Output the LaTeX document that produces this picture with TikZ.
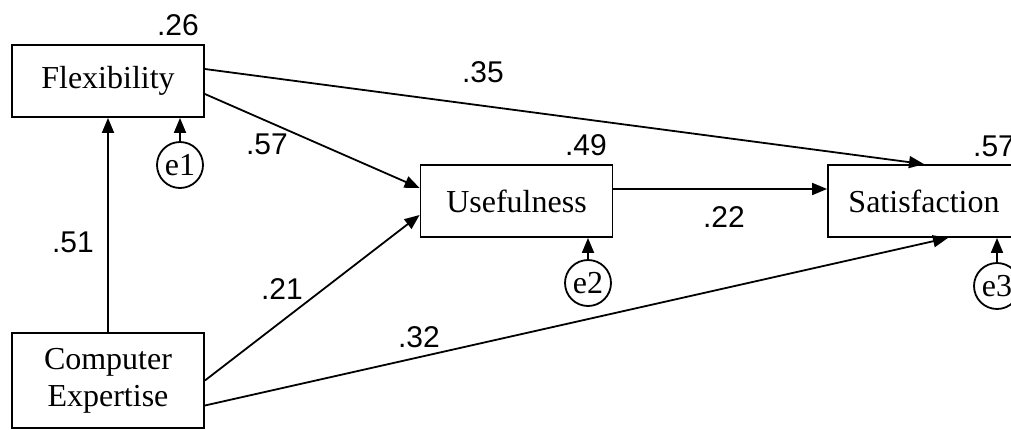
\documentclass[tikz,border=0pt]{standalone}
\usepackage{fontspec}
\setmainfont{Liberation Serif}
\newfontfamily\numfont{Liberation Sans}
\usetikzlibrary{arrows.meta,positioning}

\begin{document}
\begin{tikzpicture}[x=0.5pt,y=-0.5pt,>={Triangle[length=7.5pt,width=6pt]},line width=0.9pt,
  var/.style={draw, rectangle, minimum width=96pt, minimum height=36pt, inner sep=0pt, align=center, font=\fontsize{16}{18.5}\selectfont},
  err/.style={draw, circle, minimum size=23pt, inner sep=0pt, font=\fontsize{16}{16}\selectfont},
  coef/.style={inner sep=0pt, font=\numfont\fontsize{15}{15}\selectfont}]
\clip (0,0) rectangle (1011,429);
\node[var] (flex) at (108,81) {Flexibility};
\node[var] (use) at (516.5,201) {Usefulness};
\node[var] (sat) at (924,201) {Satisfaction};
\node[var, minimum height=47.5pt] (ce) at (108,380.5) {Computer\\Expertise};
\node[err] (e1) at (180,165) {e1};
\node[err] (e2) at (588,283) {e2};
\node[err] (e3) at (997,286) {e3};
% squared multiple correlations
\node[coef] (r1) at (178,25) {.26};
\node[coef] (r2) at (586,145) {.49};
\node[coef] (r3) at (994,146) {.57};
% paths
\draw[->] (e1) -- (e1 |- flex.south);
\draw[->] (e2) -- (e2 |- use.south);
\draw[->] (e3) -- (e3 |- sat.south);
\draw[->] (ce.north) -- (flex.south);
\draw[->] ([yshift=6pt]flex.east) -- (sat.north);
\draw[->] ([yshift=-6.5pt]flex.east) -- ([yshift=6.5pt]use.west);
\draw[->] ([yshift=6pt]use.east) -- ([yshift=6pt]sat.west);
\draw[->] (ce.east) -- ([yshift=-7pt]use.west);
\draw[->] ([yshift=-12.5pt]ce.east) -- ([xshift=12pt]sat.south);
\node[coef] (p35) at (483,72) {.35};
\node[coef] (p57) at (267,144) {.57};
\node[coef] (p22) at (724,217) {.22};
\node[coef] (p51) at (73,242) {.51};
\node[coef] (p21) at (282,289) {.21};
\node[coef] (p32) at (419,337) {.32};
\end{tikzpicture}
\end{document}
